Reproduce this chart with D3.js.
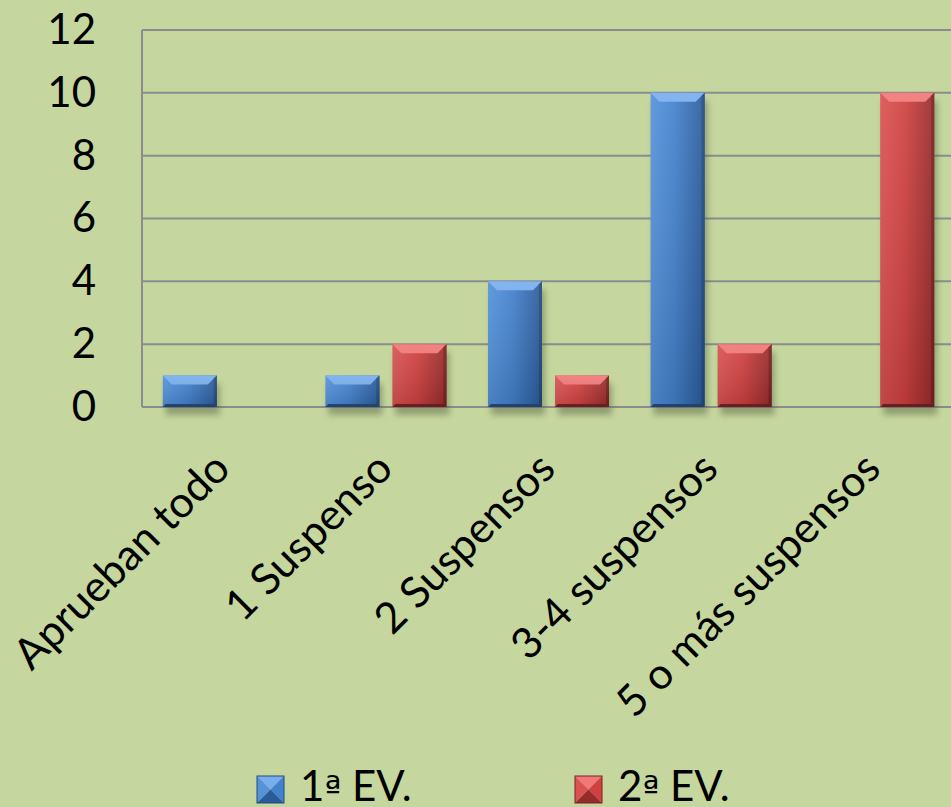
<!DOCTYPE html>
<html>
<head>
<meta charset="utf-8">
<script src="https://cdn.jsdelivr.net/npm/d3@7"></script>
<style>
  body { margin: 0; background: #c5d79e; }
  svg { display: block; }
</style>
</head>
<body>
<div id="chart"></div>
<script>
// data
const categories = ["Aprueban todo", "1 Suspenso", "2 Suspensos", "3-4 suspensos", "5 o más suspensos"]
const series = ["1ª EV.", "2ª EV."]
const ev1 = [1, 1, 4, 10, 0]
const ev2 = [0, 2, 1, 2, 10]
const yTicks = [0, 2, 4, 6, 8, 10, 12]

const width = 951
const height = 807
const margin = { top: 30, right: -4, bottom: 400, left: 142 }
const font = "Lato, 'Open Sans', sans-serif"

const pal = {
    "1ª EV.": { main: "#4281cd", light: "#78aeee", mid: "#5592da", dark: "#2b5a98", edge: "#234b80" },
    "2ª EV.": { main: "#d04040", light: "#f07878", mid: "#da5252", dark: "#962b2b", edge: "#7a2020" }
}

const svg = d3.select("#chart").append("svg")
    .attr("width", width)
    .attr("height", height)

svg.append("rect").attr("width", width).attr("height", height).attr("fill", "#c5d79e")

const defs = svg.append("defs")
const shadow = defs.append("filter").attr("id", "shadow")
    .attr("x", "-20%").attr("y", "-20%").attr("width", "140%").attr("height", "140%")
shadow.append("feGaussianBlur").attr("stdDeviation", 3)

Object.entries(pal).forEach(([k, c], i) => {
    const g = defs.append("linearGradient").attr("id", "grad" + i)
        .attr("x1", "0").attr("x2", "1").attr("y1", "0").attr("y2", "0")
    g.append("stop").attr("offset", "0%").attr("stop-color", c.mid)
    g.append("stop").attr("offset", "45%").attr("stop-color", c.main)
    g.append("stop").attr("offset", "100%").attr("stop-color", c.dark)
    const v = defs.append("linearGradient").attr("id", "vgrad" + i)
        .attr("x1", "0").attr("x2", "0").attr("y1", "0").attr("y2", "1")
    v.append("stop").attr("offset", "0%").attr("stop-color", "#fff").attr("stop-opacity", 0.08)
    v.append("stop").attr("offset", "100%").attr("stop-color", "#000").attr("stop-opacity", 0.12)
})

const plotW = width - margin.left - margin.right
const y0 = 407

const x = d3.scaleBand()
    .domain(categories)
    .range([margin.left, margin.left + plotW])

const xs = d3.scaleBand()
    .domain(series)
    .range([0, x.bandwidth()])
    .paddingInner(0.194)
    .paddingOuter(0.31)

const y = d3.scaleLinear()
    .domain([0, 12])
    .range([y0, margin.top])

// gridlines
svg.append("g")
    .selectAll("line")
    .data(yTicks)
    .enter()
    .append("line")
    .attr("x1", margin.left)
    .attr("x2", width)
    .attr("y1", d => y(d))
    .attr("y2", d => y(d))
    .attr("stroke", "#8c8c8c")
    .attr("stroke-width", 2)

svg.append("line")
    .attr("x1", margin.left).attr("x2", margin.left)
    .attr("y1", y(12)).attr("y2", y0)
    .attr("stroke", "#8c8c8c").attr("stroke-width", 2)

// y axis labels
const yAxis = d3.axisLeft(y).tickValues(yTicks).tickSize(0).tickPadding(46)
const ya = svg.append("g").attr("transform", `translate(${margin.left},0)`).call(yAxis)
ya.select(".domain").remove()
ya.selectAll("text")
    .attr("font-family", font)
    .attr("font-size", 42)
    .attr("fill", "#000")

// bars
const rows = []
categories.forEach((c, i) => {
    rows.push({ cat: c, s: series[0], v: ev1[i], k: 0 })
    rows.push({ cat: c, s: series[1], v: ev2[i], k: 1 })
})

const bars = svg.append("g")
    .selectAll("g.bar")
    .data(rows.filter(d => d.v > 0))
    .enter()
    .append("g")
    .attr("class", "bar")

const bw = xs.bandwidth()
const bev = 9

bars.append("rect")
    .attr("x", d => x(d.cat) + xs(d.s) + 3)
    .attr("y", d => y(d.v) + 8)
    .attr("width", bw)
    .attr("height", d => y0 - y(d.v))
    .attr("fill", "#4d5a3a")
    .attr("opacity", 0.45)
    .attr("filter", "url(#shadow)")

bars.append("rect")
    .attr("x", d => x(d.cat) + xs(d.s))
    .attr("y", d => y(d.v))
    .attr("width", bw)
    .attr("height", d => y0 - y(d.v))
    .attr("fill", d => `url(#grad${d.k})`)

// top bevel
bars.append("path")
    .attr("d", d => {
        const x0 = x(d.cat) + xs(d.s), t = y(d.v)
        return `M${x0},${t}L${x0 + bw},${t}L${x0 + bw - bev},${t + bev}L${x0 + bev},${t + bev}Z`
    })
    .attr("fill", d => pal[d.s].light)

// right bevel
bars.append("path")
    .attr("d", d => {
        const x0 = x(d.cat) + xs(d.s), t = y(d.v)
        return `M${x0 + bw},${t}L${x0 + bw},${y0}L${x0 + bw - 3},${y0 - 3}L${x0 + bw - 3},${t + 3}Z`
    })
    .attr("fill", d => pal[d.s].edge)

// bottom bevel
bars.append("path")
    .attr("d", d => {
        const x0 = x(d.cat) + xs(d.s)
        return `M${x0},${y0}L${x0 + bw},${y0}L${x0 + bw - 3},${y0 - 3}L${x0 + 3},${y0 - 3}Z`
    })
    .attr("fill", d => pal[d.s].edge)

bars.append("rect")
    .attr("x", d => x(d.cat) + xs(d.s))
    .attr("y", d => y(d.v))
    .attr("width", bw)
    .attr("height", d => y0 - y(d.v))
    .attr("fill", d => `url(#vgrad${d.k})`)

// x labels
svg.append("g")
    .selectAll("text")
    .data(categories)
    .enter()
    .append("text")
    .attr("transform", d => `translate(${x(d) + x.bandwidth() / 2 + 9},${y0 + 64}) rotate(-45)`)
    .attr("text-anchor", "end")
    .attr("font-family", font)
    .attr("font-size", 43)
    .attr("fill", "#000")
    .text(d => d)

// legend
const legend = svg.append("g")
    .selectAll("g")
    .data(series)
    .enter()
    .append("g")
    .attr("transform", (d, i) => `translate(${[257, 575][i]},776)`)

const s = 27
legend.append("path").attr("d", `M0,0L${s},0L${s / 2},${s / 2}Z`).attr("fill", d => pal[d].light)
legend.append("path").attr("d", `M0,0L${s / 2},${s / 2}L0,${s}Z`).attr("fill", d => pal[d].mid)
legend.append("path").attr("d", `M${s},0L${s},${s}L${s / 2},${s / 2}Z`).attr("fill", d => pal[d].main)
legend.append("path").attr("d", `M0,${s}L${s / 2},${s / 2}L${s},${s}Z`).attr("fill", d => pal[d].dark)
legend.append("rect").attr("width", s).attr("height", s)
    .attr("fill", "none").attr("stroke", d => pal[d].edge).attr("stroke-width", 1)

const lt = legend.append("text")
    .attr("x", 43)
    .attr("y", 25)
    .attr("font-family", font)
    .attr("font-size", 42)
    .attr("fill", "#000")
lt.append("tspan").text(d => d.slice(0, 1))
lt.append("tspan").attr("font-family", "'DejaVu Sans', sans-serif").attr("font-size", 36).text("ª")
lt.append("tspan").text(d => d.slice(2))
</script>
</body>
</html>
